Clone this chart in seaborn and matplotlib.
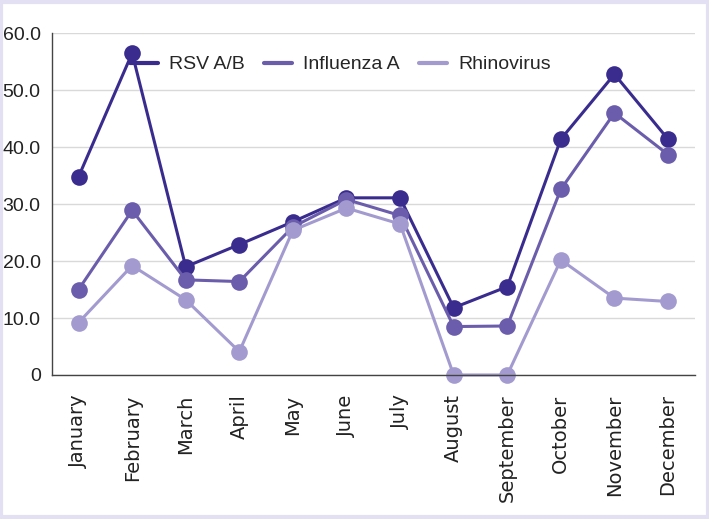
import pandas as pd
import numpy as np
import matplotlib
matplotlib.use('Agg')
import matplotlib.pyplot as plt
from matplotlib.patches import Rectangle
import seaborn as sns

# Dados
meses = ['January', 'February', 'March', 'April', 'May', 'June', 'July',
         'August', 'September', 'October', 'November', 'December']
rsv = [34.8, 56.5, 19.0, 22.9, 26.9, 31.1, 31.1, 11.8, 15.5, 41.4, 52.8, 41.4]
influenza = [15.0, 28.9, 16.7, 16.4, 26.0, 30.8, 28.0, 8.5, 8.6, 32.6, 46.0, 38.7]
rhinovirus = [9.2, 19.2, 13.2, 4.1, 25.4, 29.3, 26.5, 0.0, 0.0, 20.2, 13.5, 12.9]
series = ['RSV A/B', 'Influenza A', 'Rhinovirus']
cores = ['#3a2c8e', '#6b5dab', '#a39bd0']

df = pd.DataFrame({
    'mes': meses * 3,
    'valor': rsv + influenza + rhinovirus,
    'virus': [s for s in series for _ in meses],
})

sns.set_style('white')
plt.rcParams['font.family'] = ['DejaVu Sans']
fonte_estreita = ['Liberation Sans', 'DejaVu Sans']

fig = plt.figure(figsize=(7.09, 5.19), dpi=100)
ax = fig.add_axes([0.073, 0.2775, 0.907, 0.6585])

sns.lineplot(data=df, x='mes', y='valor', hue='virus', palette=cores,
             marker='o', markersize=12, markeredgewidth=0, linewidth=2.2,
             sort=False, ax=ax, clip_on=False)

# Eixos
ax.set_ylim(0, 60)
ax.set_xlim(-0.5, 11.5)
ax.set_yticks(np.arange(0, 61, 10))
ax.set_yticklabels(['0'] + [f'{v:.1f}' for v in np.arange(10, 61, 10)],
                   fontsize=14, color='#222222', family=fonte_estreita)
ax.set_xticks(range(len(meses)))
ax.set_xticklabels(meses, rotation=90, fontsize=14, color='#222222', family='DejaVu Sans')
ax.set_xticks(np.arange(-0.5, 12, 1), minor=True)
ax.tick_params(axis='x', which='major', length=0, pad=14)
ax.tick_params(axis='x', which='minor', length=6, width=1, color='#444444', direction='out')
ax.tick_params(axis='y', length=6, width=1, color='#444444', direction='out', pad=2)
ax.set_xlabel('')
ax.set_ylabel('')

ax.yaxis.grid(True, color='#d9d9d9', linewidth=1)
ax.set_axisbelow(True)
for lado in ['top', 'right']:
    ax.spines[lado].set_visible(False)
for lado in ['left', 'bottom']:
    ax.spines[lado].set_color('#444444')
    ax.spines[lado].set_linewidth(1)

# Legenda
leg = ax.legend(loc='upper left', bbox_to_anchor=(0.095, 0.985), ncol=3, frameon=False,
                prop={'family': fonte_estreita, 'size': 14},
                handlelength=1.4, columnspacing=1.0, handletextpad=0.6)
for h in leg.legend_handles:
    h.set_marker('')
    h.set_linewidth(3)

# Moldura lilás
fig.patches.append(Rectangle((0.002, 0.003), 0.996, 0.994, transform=fig.transFigure,
                             fill=False, edgecolor='#e2e0f2', linewidth=3))

plt.savefig('out.png', dpi=100)
